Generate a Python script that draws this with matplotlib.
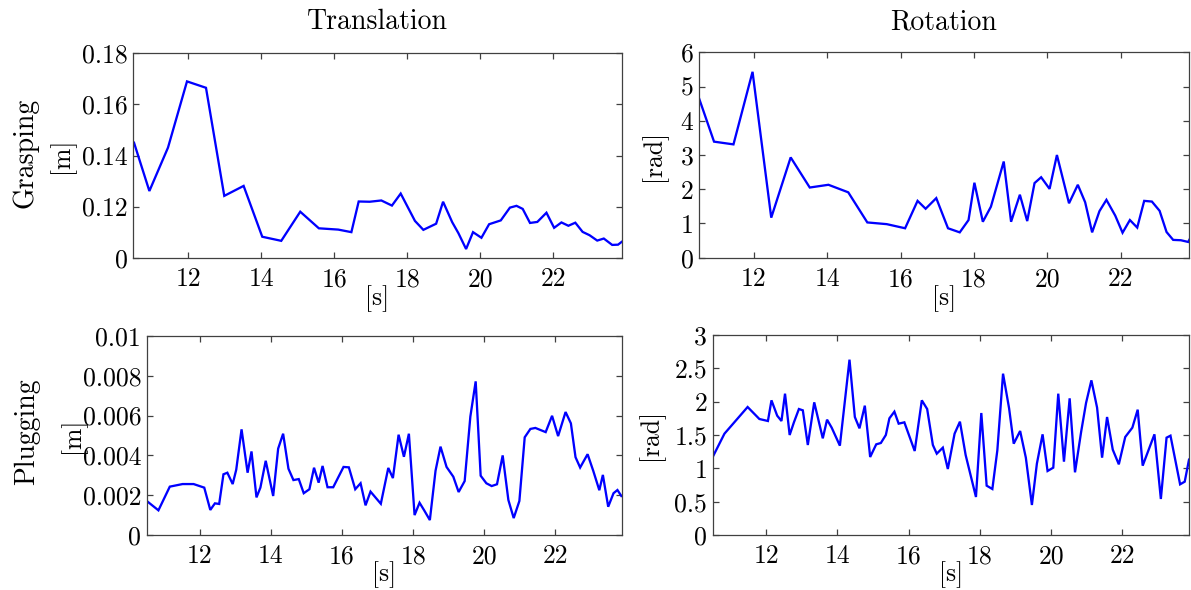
import matplotlib
matplotlib.use("Agg")
import matplotlib.pyplot as plt

# ---- data -------------------------------------------------------------
t_grasp_trans = [10.52, 10.94, 11.45, 11.97, 12.49, 12.99, 13.52, 14.03, 14.55, 15.07,
                 15.58, 16.11, 16.47, 16.67, 16.97, 17.29, 17.58, 17.82, 18.21, 18.44,
                 18.79, 18.98, 19.23, 19.40, 19.61, 19.80, 20.03, 20.24, 20.56, 20.81,
                 20.99, 21.16, 21.36, 21.56, 21.81, 22.02, 22.22, 22.41, 22.60, 22.80,
                 22.99, 23.20, 23.38, 23.61, 23.77, 23.87]
grasp_trans = [0.1450, 0.1261, 0.1431, 0.1690, 0.1665, 0.1242, 0.1281, 0.1082, 0.1066, 0.1180,
               0.1115, 0.1110, 0.1100, 0.1220, 0.1219, 0.1224, 0.1204, 0.1251, 0.1144, 0.1109,
               0.1133, 0.1219, 0.1139, 0.1096, 0.1034, 0.1100, 0.1078, 0.1131, 0.1146, 0.1196,
               0.1203, 0.1191, 0.1136, 0.1140, 0.1176, 0.1117, 0.1138, 0.1125, 0.1137, 0.1101,
               0.1088, 0.1067, 0.1075, 0.1050, 0.1051, 0.1062]

t_grasp_rot = [10.50, 10.91, 11.44, 11.96, 12.47, 13.00, 13.52, 14.03, 14.57, 15.09,
               15.62, 16.12, 16.46, 16.68, 16.97, 17.29, 17.61, 17.85, 18.01, 18.24,
               18.46, 18.81, 19.01, 19.25, 19.45, 19.65, 19.83, 20.06, 20.26, 20.59,
               20.83, 21.03, 21.22, 21.42, 21.61, 21.85, 22.05, 22.25, 22.45, 22.64,
               22.85, 23.06, 23.25, 23.43, 23.64, 23.84, 23.91]
grasp_rot = [4.66, 3.39, 3.31, 5.43, 1.17, 2.93, 2.05, 2.13, 1.91, 1.03,
             0.98, 0.86, 1.66, 1.43, 1.74, 0.86, 0.74, 1.10, 2.19, 1.05,
             1.49, 2.81, 1.05, 1.84, 1.07, 2.18, 2.35, 2.01, 3.00, 1.59,
             2.13, 1.62, 0.74, 1.36, 1.69, 1.23, 0.73, 1.10, 0.88, 1.66,
             1.64, 1.37, 0.75, 0.52, 0.51, 0.46, 0.60]

t_plug_trans = [10.48, 10.83, 11.15, 11.51, 11.82, 12.12, 12.29, 12.42, 12.54, 12.66,
                12.77, 12.92, 13.02, 13.17, 13.34, 13.45, 13.59, 13.70, 13.85, 14.06,
                14.20, 14.34, 14.49, 14.63, 14.78, 14.92, 15.08, 15.21, 15.34, 15.45,
                15.59, 15.75, 16.04, 16.19, 16.37, 16.52, 16.66, 16.80, 17.09, 17.30,
                17.43, 17.59, 17.74, 17.88, 18.04, 18.18, 18.31, 18.47, 18.63, 18.77,
                18.94, 19.13, 19.28, 19.45, 19.61, 19.76, 19.90, 20.06, 20.21, 20.36,
                20.52, 20.68, 20.83, 20.99, 21.14, 21.30, 21.44, 21.73, 21.91, 22.08,
                22.29, 22.44, 22.57, 22.70, 22.91, 23.07, 23.24, 23.34, 23.49, 23.64,
                23.75, 23.86]
plug_trans = [0.00174, 0.00124, 0.00243, 0.00256, 0.00256, 0.00238, 0.00126, 0.00159, 0.00156, 0.00305,
              0.00313, 0.00256, 0.00328, 0.00531, 0.00313, 0.00420, 0.00189, 0.00238, 0.00373, 0.00196,
              0.00434, 0.00509, 0.00333, 0.00276, 0.00281, 0.00210, 0.00230, 0.00338, 0.00263, 0.00347,
              0.00240, 0.00240, 0.00342, 0.00340, 0.00230, 0.00260, 0.00149, 0.00218, 0.00157, 0.00337,
              0.00286, 0.00504, 0.00393, 0.00509, 0.00100, 0.00162, 0.00124, 0.00075, 0.00323, 0.00444,
              0.00342, 0.00293, 0.00216, 0.00271, 0.00595, 0.00772, 0.00298, 0.00260, 0.00246, 0.00255,
              0.00400, 0.00176, 0.00085, 0.00171, 0.00491, 0.00533, 0.00538, 0.00517, 0.00599, 0.00497,
              0.00618, 0.00561, 0.00391, 0.00339, 0.00406, 0.00322, 0.00225, 0.00302, 0.00142, 0.00210,
              0.00226, 0.00196]

t_plug_rot = [10.50, 10.83, 11.48, 11.81, 12.05, 12.15, 12.31, 12.43, 12.53, 12.66,
              12.78, 12.92, 13.03, 13.17, 13.35, 13.59, 13.71, 13.84, 14.07, 14.34,
              14.49, 14.62, 14.77, 14.92, 15.09, 15.22, 15.36, 15.46, 15.60, 15.72,
              15.88, 16.17, 16.37, 16.52, 16.68, 16.79, 16.96, 17.10, 17.29, 17.44,
              17.60, 17.89, 18.04, 18.19, 18.35, 18.49, 18.65, 18.82, 18.95, 19.13,
              19.29, 19.46, 19.60, 19.76, 19.90, 20.06, 20.20, 20.36, 20.52, 20.67,
              20.84, 20.98, 21.13, 21.29, 21.43, 21.57, 21.73, 21.90, 22.08, 22.28,
              22.43, 22.57, 22.90, 23.08, 23.24, 23.35, 23.62, 23.75, 23.87]
plug_rot = [1.17, 1.52, 1.92, 1.74, 1.71, 2.02, 1.79, 1.71, 2.12, 1.50,
            1.69, 1.89, 1.87, 1.35, 1.99, 1.45, 1.73, 1.61, 1.34, 2.63,
            1.77, 1.60, 1.94, 1.17, 1.36, 1.38, 1.50, 1.75, 1.85, 1.67,
            1.69, 1.26, 2.02, 1.89, 1.35, 1.22, 1.31, 0.99, 1.52, 1.70,
            1.20, 0.57, 1.83, 0.74, 0.69, 1.27, 2.42, 1.90, 1.37, 1.56,
            1.16, 0.45, 1.07, 1.51, 0.96, 1.01, 2.12, 1.10, 2.05, 0.94,
            1.54, 1.98, 2.32, 1.91, 1.16, 1.77, 1.28, 1.06, 1.47, 1.61,
            1.88, 1.04, 1.51, 0.54, 1.46, 1.49, 0.76, 0.80, 1.13]

x_ticks = [12, 14, 16, 18, 20, 22]
x_range = (10.5, 23.87)

yt_grasp_trans = [0.10, 0.12, 0.14, 0.16, 0.18]
yl_grasp_trans = ["0", "0.12", "0.14", "0.16", "0.18"]
yt_grasp_rot = [0, 1, 2, 3, 4, 5, 6]
yl_grasp_rot = ["0", "1", "2", "3", "4", "5", "6"]
yt_plug_trans = [0, 0.002, 0.004, 0.006, 0.008, 0.01]
yl_plug_trans = ["0", "0.002", "0.004", "0.006", "0.008", "0.01"]
yt_plug_rot = [0, 0.5, 1, 1.5, 2, 2.5, 3]
yl_plug_rot = ["0", "0.5", "1", "1.5", "2", "2.5", "3"]

col_titles = ["Translation", "Rotation"]
row_titles = ["Grasping", "Plugging"]

# ---- figure -----------------------------------------------------------
W, H = 1191, 590
fig = plt.figure(figsize=(W / 100, H / 100), dpi=100)

TICK_FONT = "cmr10"
TICK_SIZE = 18.5
LABEL_SIZE = 20
EDGE = "#404040"


def add_axes_px(left, right, top, bottom):
    return fig.add_axes([left / W, 1 - bottom / H, (right - left) / W, (bottom - top) / H])


def style(ax, yticks, ylabels, ylim, unit, unit_x, s_y):
    ax.set_xlim(*x_range)
    ax.set_ylim(*ylim)
    ax.set_xticks(x_ticks)
    ax.set_xticklabels([str(v) for v in x_ticks], fontfamily=TICK_FONT, fontsize=TICK_SIZE)
    ax.set_yticks(yticks)
    ax.set_yticklabels(ylabels, fontfamily=TICK_FONT, fontsize=TICK_SIZE)
    ax.tick_params(direction="in", length=4.5, width=0.9, color=EDGE,
                   top=True, right=True, pad=4)
    ax.tick_params(axis="x", pad=7)
    for s in ax.spines.values():
        s.set_color(EDGE)
        s.set_linewidth(0.9)
    ax.set_xlabel("[s]", fontfamily=TICK_FONT, fontsize=TICK_SIZE)
    ax.xaxis.set_label_coords(0.5, s_y)
    ax.set_ylabel("[" + unit + "]", fontfamily=TICK_FONT, fontsize=TICK_SIZE)
    ax.yaxis.set_label_coords(unit_x, 0.5)


ax_gt = add_axes_px(133.3, 621.7, 53.3, 257.7)
ax_gr = add_axes_px(699.0, 1189.3, 52.3, 257.7)
ax_pt = add_axes_px(146.7, 621.7, 336.0, 535.0)
ax_pr = add_axes_px(712.7, 1189.0, 335.0, 535.0)

line_kw = dict(color=(0, 0, 1), lw=1.65, solid_joinstyle="miter")
ax_gt.plot(t_grasp_trans, grasp_trans, **line_kw)
ax_gr.plot(t_grasp_rot, grasp_rot, **line_kw)
ax_pt.plot(t_plug_trans, plug_trans, **line_kw)
ax_pr.plot(t_plug_rot, plug_rot, **line_kw)

style(ax_gt, yt_grasp_trans, yl_grasp_trans, (0.10, 0.18), "m", -0.12, -0.135)
style(ax_gr, yt_grasp_rot, yl_grasp_rot, (0, 6), "rad", -0.066, -0.135)
style(ax_pt, yt_plug_trans, yl_plug_trans, (0, 0.01), "m", -0.128, -0.13)
style(ax_pr, yt_plug_rot, yl_plug_rot, (0, 3), "rad", -0.102, -0.13)

# column and row headings
fig.text(377.5 / W, 1 - 22 / H, col_titles[0], ha="center", va="center",
         fontfamily=TICK_FONT, fontsize=LABEL_SIZE)
fig.text(944 / W, 1 - 22 / H, col_titles[1], ha="center", va="center",
         fontfamily=TICK_FONT, fontsize=LABEL_SIZE)
fig.text(25 / W, 1 - 153 / H, row_titles[0], ha="center", va="center", rotation=90,
         fontfamily=TICK_FONT, fontsize=LABEL_SIZE)
fig.text(27 / W, 1 - 432 / H, row_titles[1], ha="center", va="center", rotation=90,
         fontfamily=TICK_FONT, fontsize=LABEL_SIZE)

fig.savefig("out.png", dpi=100, facecolor="white")
